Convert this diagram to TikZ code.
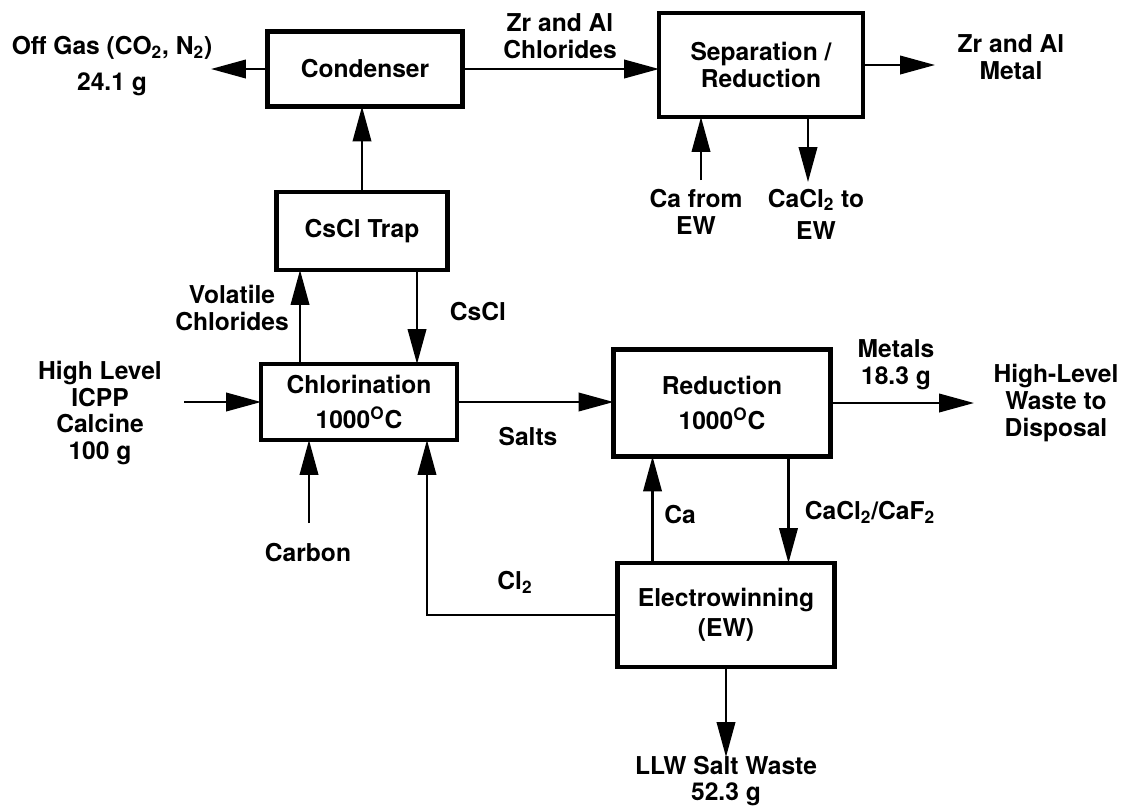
\documentclass[tikz,border=0pt]{standalone}
\usepackage{fontspec}
\setmainfont{TeX Gyre Heros}
\usetikzlibrary{arrows.meta, calc}

\tikzset{
	box/.style={draw, line width=2.7pt, inner sep=0pt, outer sep=0pt, align=center},
	flow/.style={line width=1.3pt, -{Triangle[length=0.7cm, width=0.37cm]}},
	lbl/.style={align=center, inner sep=0pt},
}

\begin{document}
\begin{tikzpicture}[x=0.02cm, y=-0.02cm, font=\fontsize{14}{15.2}\selectfont\bfseries]
	\useasboundingbox (0,0) rectangle (1137,806);
	% Units:
	\node[box, minimum width=3.9cm, minimum height=1.5cm] (cond) at (365, 69){Condenser};
	\node[box, minimum width=3.42cm, minimum height=1.56cm] (trap) at (362, 231){CsCl Trap};
	\node[box, minimum width=4.08cm, minimum height=2.08cm] (sep) at (761, 65){Separation /\\Reduction};
	\node[box, minimum width=3.92cm, minimum height=1.52cm] (chlor) at (359, 402){Chlorination\\[5pt]1000\textsuperscript{O}C};
	\node[box, minimum width=4.34cm, minimum height=2.14cm] (red) at (722, 403){Reduction\\[5pt]1000\textsuperscript{O}C};
	\node[box, minimum width=4.34cm, minimum height=2.08cm] (ew) at (726, 615){Electrowinning\\[2pt](EW)};
	% Free ends and tap points:
	\coordinate (offtip) at (211, 69);
	\coordinate (metaltip) at (935, 65);
	\coordinate (cafrom) at (701, 180);
	\coordinate (cacltip) at (808, 182);
	\coordinate (feed) at (184, 402);
	\coordinate (carbon) at (309, 523);
	\coordinate (metalstip) at (974, 403);
	\coordinate (llwtip) at (726, 757);
	\coordinate (volout) at ($(chlor.north west)+(39,0)$);
	\coordinate (csclin) at ($(chlor.north west)+(156,0)$);
	\coordinate (clin) at ($(chlor.south east)+(-30,0)$);
	\coordinate (caout) at ($(ew.north west)+(35,0)$);
	\coordinate (saltout) at ($(red.south east)+(-42,0)$);
	% Streams:
	\draw[flow] (cond.west) -- (offtip);
	\draw[flow] (cond.east) -- (cond.east -| sep.west);
	\draw[flow] (sep.east) -- (metaltip);
	\draw[flow] (cafrom) -- (cafrom |- sep.south);
	\draw[flow] (cacltip |- sep.south) -- (cacltip);
	\draw[flow] (trap.north) -- (trap.north |- cond.south);
	\draw[flow] (volout) -- (volout |- trap.south);
	\draw[flow] (csclin |- trap.south) -- (csclin);
	\draw[flow] (feed) -- (feed -| chlor.west);
	\draw[flow] (carbon) -- (carbon |- chlor.south);
	\draw[flow] (ew.west) -| (clin);
	\draw[flow] (chlor.east) -- (chlor.east -| red.west);
	\draw[flow] (red.east) -- (metalstip);
	\draw[flow] (caout) -- (caout |- red.south);
	\draw[flow] (saltout) -- (saltout |- ew.north);
	\draw[flow] (ew.south) -- (llwtip);
	% Labels:
	\node[lbl] (offgas) at (112, 66){Off Gas (CO\textsubscript{2}, N\textsubscript{2})\\[5pt]24.1 g};
	\node[lbl] (zrcl) at (560, 36){Zr and Al\\Chlorides};
	\node[lbl] (zrmet) at (1011, 57){Zr and Al\\Metal};
	\node[lbl] (cafromlbl) at (696, 212){Ca from\\EW};
	\node[lbl] (cacllbl) at (816, 214){CaCl\textsubscript{2} to\\[3pt]EW};
	\node[lbl] (vol) at (232, 308){Volatile\\Chlorides};
	\node[lbl] (cscl) at (478, 312){CsCl};
	\node[lbl] (hlw) at (100, 413){High Level\\ICPP\\Calcine\\100 g};
	\node[lbl] (carbonlbl) at (308, 553){Carbon};
	\node[lbl] (salts) at (528, 437){Salts};
	\node[lbl] (cltwo) at (515, 582){Cl\textsubscript{2}};
	\node[lbl] (metals) at (896, 365){Metals\\18.3 g};
	\node[lbl] (disp) at (1056, 403){High-Level\\Waste to\\Disposal};
	\node[lbl] (ca) at (680, 515){Ca};
	\node[lbl] (caf) at (870, 512){CaCl\textsubscript{2}/CaF\textsubscript{2}};
	\node[lbl] (llw) at (726, 781){LLW Salt Waste\\52.3 g};
\end{tikzpicture}
\end{document}
